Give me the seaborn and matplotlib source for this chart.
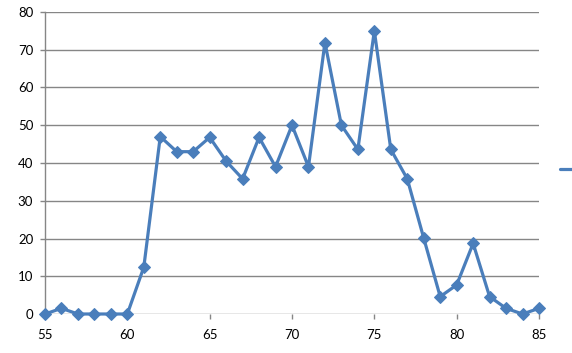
import matplotlib
matplotlib.use("Agg")
import matplotlib.pyplot as plt
import seaborn as sns
import pandas as pd
from matplotlib.lines import Line2D

x_values = list(range(55, 86))
y_values = [0, 1.5, 0, 0, 0, 0, 12.4, 47, 43, 43, 46.8, 40.5, 35.8, 46.8, 39, 50,
            39, 71.9, 50, 43.6, 75, 43.6, 35.8, 20.1, 4.6, 7.7, 18.7, 4.6, 1.5, 0, 1.5]
x_ticks = [55, 60, 65, 70, 75, 80, 85]
y_ticks = [0, 10, 20, 30, 40, 50, 60, 70, 80]

df = pd.DataFrame({"x": x_values, "y": y_values})

sns.set_style("white")
plt.rcParams["font.family"] = ["Lato", "DejaVu Sans"]

fig = plt.figure(figsize=(5.72, 3.53), dpi=100)
ax = fig.add_axes([45/572, 1-314/353, (539-45)/572, (314-12)/353])

color = "#4A7EBB"
grid_c = "#868686"

for yt in y_ticks:
    ax.axhline(yt, color=grid_c, lw=1.0, zorder=0)

sns.lineplot(data=df, x="x", y="y", ax=ax, color=color, lw=2.3,
             marker="D", markersize=6.5, markeredgecolor=color, markerfacecolor=color,
             clip_on=False, zorder=3)

ax.set_xlim(55, 85)
ax.set_ylim(0, 80)
ax.set_xticks(x_ticks)
ax.set_yticks(y_ticks)
ax.set_xlabel("")
ax.set_ylabel("")
for s in ["top", "right", "bottom"]:
    ax.spines[s].set_visible(False)
ax.spines["left"].set_color(grid_c)
ax.spines["left"].set_linewidth(1.0)
ax.tick_params(axis="both", which="both", direction="out", length=3.5, width=1,
               color=grid_c, labelsize=9.5, labelcolor="black",
               bottom=True, left=True)
ax.tick_params(axis="x", pad=7)
ax.tick_params(axis="y", pad=5)

fig.legend([Line2D([0], [0], color=color, lw=2.3)], [" "],
           loc="center left", bbox_to_anchor=(560/572, 1-170/353),
           frameon=False, handlelength=2.0, borderpad=0, borderaxespad=0)

fig.savefig("out.png", dpi=100)
